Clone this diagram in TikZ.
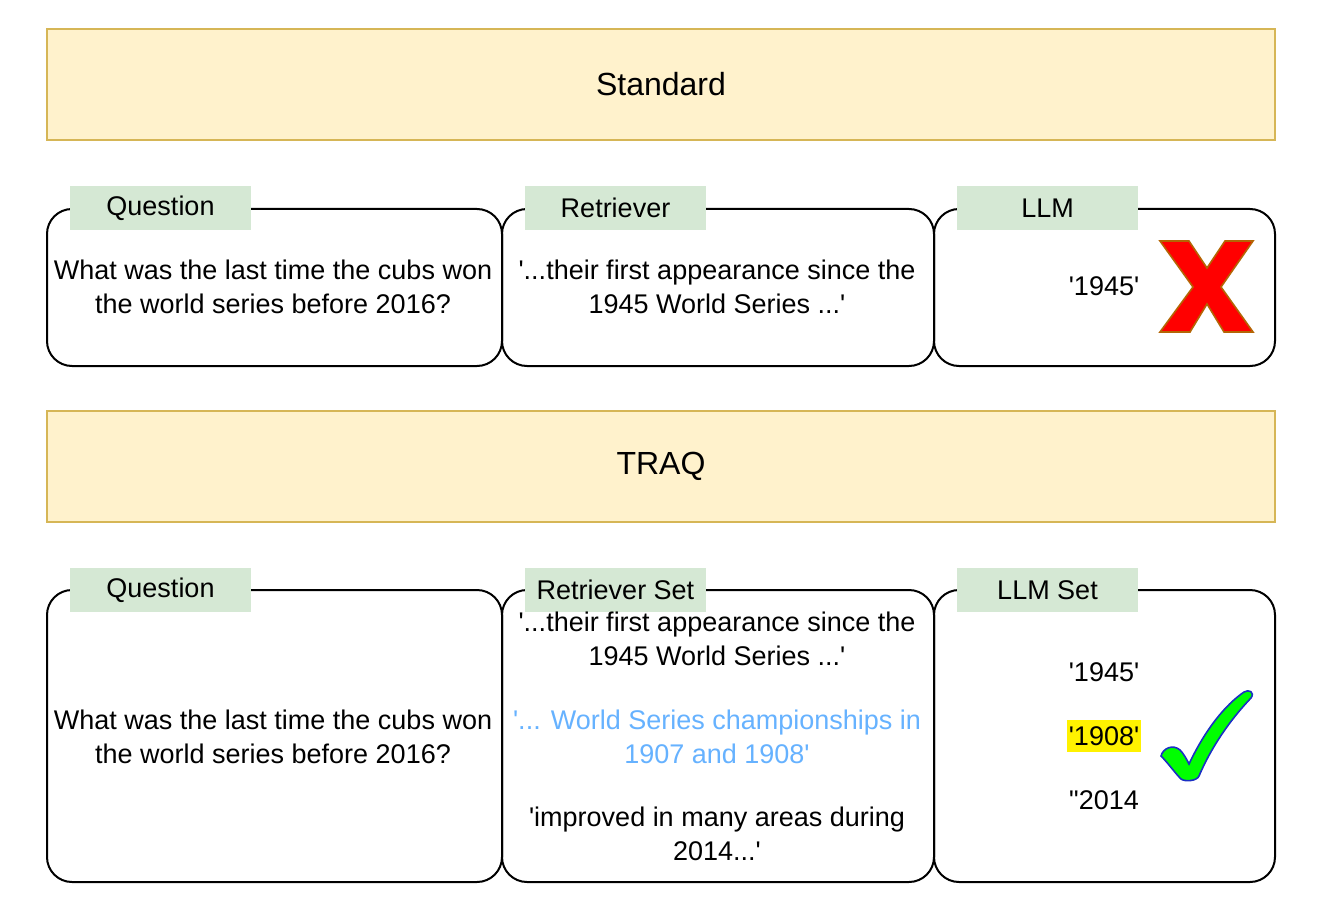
\documentclass[tikz,border=0pt]{standalone}
\usepackage{fontspec}
\setmainfont{Liberation Sans}[Ligatures=TeXOff]
\definecolor{bannerfill}{HTML}{FFF2CC}
\definecolor{bannerline}{HTML}{D6B656}
\definecolor{tagfill}{HTML}{D5E8D4}
\definecolor{hitblue}{HTML}{66B2FF}
\definecolor{crossline}{HTML}{B46504}
\definecolor{ticklime}{HTML}{00FF00}
\definecolor{tickline}{HTML}{1A2FC4}
\begin{document}
\begin{tikzpicture}[x=0.5pt,y=-0.5pt,
  banner/.style={draw=bannerline, fill=bannerfill, line width=1pt,
    minimum width=614pt, minimum height=55.5pt, inner sep=0pt,
    font=\fontsize{16}{19}\selectfont},
  panel/.style={draw=black, line width=1pt, rounded corners=12.5pt,
    minimum height=#1, inner sep=0pt},
  tag/.style={fill=tagfill, minimum width=90.5pt, minimum height=22pt,
    inner sep=0pt, font=\fontsize{13.5}{16}\selectfont},
  body/.style={align=center, inner sep=0pt, font=\fontsize{13.5}{17}\selectfont}]
\useasboundingbox (0,0) rectangle (1321,909);
\fill[white] (0,0) rectangle (1321,909);

% ---- Standard pipeline ----
\node[banner] (stdbanner) at (661,84.5) {Standard};

\node[panel=78.5pt, minimum width=227.5pt] (stdq) at (274.5,287.5) {};
\node[panel=78.5pt, minimum width=216pt] (stdr) at (718,287.5) {};
\node[panel=78.5pt, minimum width=170.5pt] (stdl) at (1104.5,287.5) {};

\node[tag] (stdqtag) at (160.5,208) {Question};
\node[tag] (stdrtag) at (615.5,208) {Retriever};
\node[tag] (stdltag) at (1047.5,208) {LLM};

\node[body] (stdqtext) at (273,287) {What was the last time the cubs won\\the world series before 2016?};
\node[body] (stdrtext) at (717,287) {'...their first appearance since the\\1945 World Series ...'};
\node[body] (stdltext) at (1104,286) {'1945'};

% red cross
\filldraw[fill=red, draw=crossline, line width=0.8pt] (1160,241) -- (1189,241) -- (1207,268) -- (1225,241)
  -- (1253,241) -- (1221,287) -- (1253,332) -- (1224,332) -- (1207,304) -- (1190,332)
  -- (1160,332) -- (1193,287) -- cycle;

% ---- TRAQ pipeline ----
\node[banner] (traqbanner) at (661,466) {TRAQ};

\node[panel=146pt, minimum width=227.5pt] (trq) at (274.5,736) {};
\node[panel=146pt, minimum width=216pt] (trr) at (718,736) {};
\node[panel=146pt, minimum width=170.5pt] (trl) at (1104.5,736) {};

\node[tag] (trqtag) at (160.5,590) {Question};
\node[tag] (trrtag) at (615.5,590) {Retriever Set};
\node[tag] (trltag) at (1047.5,590) {LLM Set};

\node[body] (trqtext) at (273,737) {What was the last time the cubs won\\the world series before 2016?};
\node[body] (trr1) at (717,639) {'...their first appearance since the\\1945 World Series ...'};
\node[body, text=hitblue] (trr2) at (717,737) {'... World Series championships in\\1907 and 1908'};
\node[body] (trr3) at (717,834) {'improved in many areas during\\2014...'};

\node[body] (trl1) at (1104,672) {'1945'};
\node[body, fill=yellow, inner xsep=1pt, inner ysep=3pt] (trl2) at (1104,736) {'1908'};
\node[body] (trl3) at (1104,800) {"2014};

% green tick
\filldraw[fill=ticklime, draw=tickline, line width=0.8pt]
  (1161,756) .. controls (1163,748) and (1173,744) .. (1180,750)
  .. controls (1184,754) and (1187,760) .. (1189,764)
  .. controls (1205,730) and (1225,705) .. (1244,692)
  .. controls (1249,689) and (1255,692) .. (1251,698)
  .. controls (1228,722) and (1210,750) .. (1199,776)
  .. controls (1197,781) and (1185,782) .. (1181,779)
  .. controls (1175,773) and (1168,763) .. (1161,756) -- cycle;
\end{tikzpicture}
\end{document}
